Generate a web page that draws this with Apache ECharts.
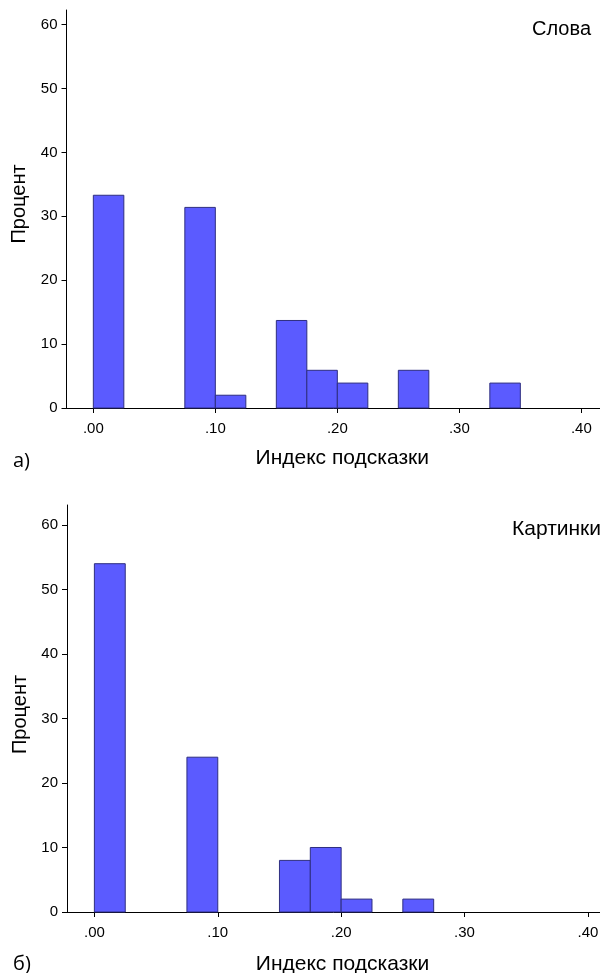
<!DOCTYPE html>
<html>
<head>
<meta charset="utf-8">
<script src="https://cdn.jsdelivr.net/npm/echarts@6/dist/echarts.min.js"></script>
<style>
  html, body { margin: 0; padding: 0; background: #fff; }
  #chart { width: 600px; height: 973px; }
</style>
</head>
<body>
<div id="chart"></div>
<script>
// bin width of the histogram (index units)
var binWidth = 0.025;

// top panel "Слова": bin starts and percent
var wordsBins = [0.0, 0.075, 0.1, 0.15, 0.175, 0.2, 0.25, 0.325];
var wordsPercent = [33.3, 31.4, 2.0, 13.7, 5.9, 3.9, 5.9, 3.9];

// bottom panel "Картинки"
var picsBins = [0.0, 0.075, 0.15, 0.175, 0.2, 0.25];
var picsPercent = [54, 24, 8, 10, 2, 2];

var xTicks = [0, 0.1, 0.2, 0.3, 0.4];
var yTicks = [0, 10, 20, 30, 40, 50, 60];

var fontMain = "'Liberation Sans', Arial, sans-serif";

function toData(bins, vals) {
	return bins.map(function (b, i) {
		return [b, b + binWidth, vals[i]];
	});
}

function renderBar(params, api) {
	var p0 = api.coord([api.value(0), api.value(2)]);
	var p1 = api.coord([api.value(1), 0]);
	return {
		type: "rect",
		shape: { x: p0[0], y: p0[1], width: p1[0] - p0[0], height: p1[1] - p0[1] },
		style: { fill: "#5b5bff", stroke: "#2e2e80", lineWidth: 1 },
	};
}

function xAxisCfg(idx, min, max, gap) {
	return {
		type: "value",
		gridIndex: idx,
		min: min,
		max: max,
		splitLine: { show: false },
		axisLine: { onZero: false, lineStyle: { color: "#000", width: 1 } },
		axisTick: { customValues: xTicks, length: 5, lineStyle: { color: "#000" } },
		axisLabel: {
			customValues: xTicks,
			margin: 13,
			fontSize: 15,
			fontFamily: fontMain,
			color: "#000",
			formatter: function (v) {
				return v.toFixed(2).replace(/^0/, "");
			},
		},
		name: "Индекс подсказки",
		nameLocation: "middle",
		nameGap: gap,
		nameTextStyle: { fontSize: 21, fontFamily: fontMain, color: "#000", padding: [0, 0, 0, 18] },
	};
}

function yAxisCfg(idx, max, pad) {
	return {
		type: "value",
		gridIndex: idx,
		min: 0,
		max: max,
		splitLine: { show: false },
		axisLine: { show: true, onZero: false, lineStyle: { color: "#000", width: 1 } },
		axisTick: { show: true, customValues: yTicks, length: 5, lineStyle: { color: "#000" } },
		axisLabel: {
			customValues: yTicks,
			margin: 9,
			fontSize: 15,
			fontFamily: fontMain,
			color: "#000",
		},
		name: "Процент",
		nameLocation: "middle",
		nameGap: 36,
		nameTextStyle: { fontSize: 20, fontFamily: fontMain, color: "#000", padding: pad },
	};
}

var myChart = echarts.init(document.getElementById("chart"));

var option = {
	animation: false,
	backgroundColor: "#fff",
	graphic: [
		{ type: "text", right: 9, top: 19, style: { text: "Слова", fontSize: 20, fontFamily: fontMain, fill: "#000" } },
		{ type: "text", left: 512, top: 519, style: { text: "Картинки", fontSize: 21, fontFamily: fontMain, fill: "#000" } },
		{ type: "text", left: 13, top: 451, style: { text: "а)", fontSize: 20, fontFamily: "'Open Sans', sans-serif", fill: "#000" } },
		{ type: "text", left: 13, top: 954, style: { text: "б)", fontSize: 20, fontFamily: "'Open Sans', sans-serif", fill: "#000" } },
	],
	grid: [
		{ left: 66.5, top: 10, width: 533.5, height: 398, outerBoundsMode: "none" },
		{ left: 67, top: 505, width: 533, height: 407, outerBoundsMode: "none" },
	],
	xAxis: [xAxisCfg(0, -0.022, 0.4153, 40), xAxisCfg(1, -0.0222, 0.4098, 42)],
	yAxis: [yAxisCfg(0, 62.3, [0, 0, 0, 10]), yAxisCfg(1, 63.1, [0, 12, 0, 0])],
	series: [
		{
			type: "custom",
			xAxisIndex: 0,
			yAxisIndex: 0,
			renderItem: renderBar,
			encode: { x: [0, 1], y: 2 },
			data: toData(wordsBins, wordsPercent),
		},
		{
			type: "custom",
			xAxisIndex: 1,
			yAxisIndex: 1,
			renderItem: renderBar,
			encode: { x: [0, 1], y: 2 },
			data: toData(picsBins, picsPercent),
		},
	],
};

myChart.setOption(option);
</script>
</body>
</html>
